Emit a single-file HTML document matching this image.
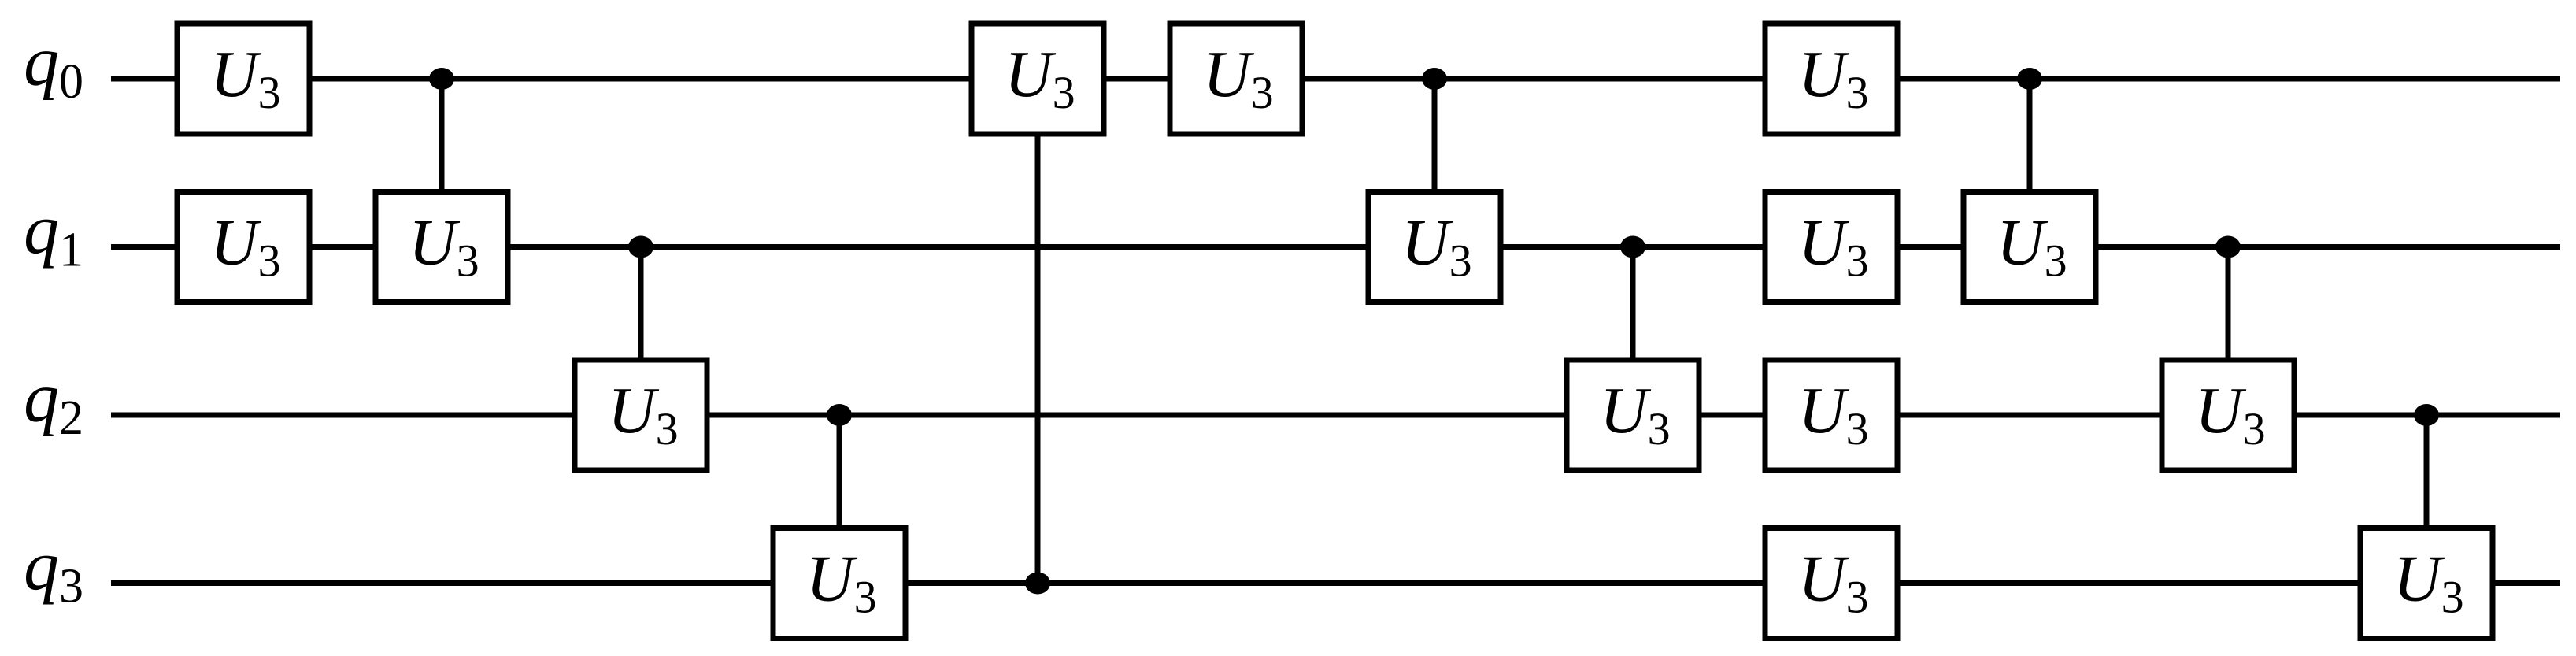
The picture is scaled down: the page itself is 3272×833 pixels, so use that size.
<!DOCTYPE html>
<html><head><meta charset="utf-8"><style>html,body{margin:0;padding:0;background:#fff}svg{display:block}</style></head>
<body>
<svg width="3272" height="833" viewBox="0 0 3272 833" xmlns="http://www.w3.org/2000/svg" font-family="Liberation Serif, serif">
<g stroke="#000" stroke-width="7">
<line x1="141" y1="100" x2="3252" y2="100"/>
<line x1="141" y1="313.5" x2="3252" y2="313.5"/>
<line x1="141" y1="527" x2="3252" y2="527"/>
<line x1="141" y1="740.5" x2="3252" y2="740.5"/>
<line x1="561" y1="100" x2="561" y2="313.5"/>
<line x1="814" y1="313.5" x2="814" y2="527"/>
<line x1="1066" y1="527" x2="1066" y2="740.5"/>
<line x1="1318" y1="100" x2="1318" y2="740.5"/>
<line x1="1822" y1="100" x2="1822" y2="313.5"/>
<line x1="2074" y1="313.5" x2="2074" y2="527"/>
<line x1="2578" y1="100" x2="2578" y2="313.5"/>
<line x1="2830" y1="313.5" x2="2830" y2="527"/>
<line x1="3082" y1="527" x2="3082" y2="740.5"/>
</g>
<g fill="#000">
<ellipse cx="561" cy="100" rx="16" ry="14"/>
<ellipse cx="814" cy="313.5" rx="16" ry="14"/>
<ellipse cx="1066" cy="527" rx="16" ry="14"/>
<ellipse cx="1318" cy="740.5" rx="16" ry="14"/>
<ellipse cx="1822" cy="100" rx="16" ry="14"/>
<ellipse cx="2074" cy="313.5" rx="16" ry="14"/>
<ellipse cx="2578" cy="100" rx="16" ry="14"/>
<ellipse cx="2830" cy="313.5" rx="16" ry="14"/>
<ellipse cx="3082" cy="527" rx="16" ry="14"/>
</g>
<g font-style="italic" font-size="90">
<text x="30" y="108">q<tspan font-style="normal" font-size="62" dy="16">0</tspan></text>
<text x="30" y="321.5">q<tspan font-style="normal" font-size="62" dy="16">1</tspan></text>
<text x="30" y="535">q<tspan font-style="normal" font-size="62" dy="16">2</tspan></text>
<text x="30" y="748.5">q<tspan font-style="normal" font-size="62" dy="16">3</tspan></text>
</g>
<defs>
<g id="g">
<rect x="-84" y="-70" width="168" height="140" fill="#fff" stroke="#000" stroke-width="7"/>
<text x="-42" y="22" font-size="84" font-style="italic">U<tspan font-style="normal" font-size="58" dy="15">3</tspan></text>
</g>
</defs>
<use href="#g" x="309" y="100"/>
<use href="#g" x="309" y="313.5"/>
<use href="#g" x="561" y="313.5"/>
<use href="#g" x="814" y="527"/>
<use href="#g" x="1066" y="740.5"/>
<use href="#g" x="1318" y="100"/>
<use href="#g" x="1570" y="100"/>
<use href="#g" x="1822" y="313.5"/>
<use href="#g" x="2074" y="527"/>
<use href="#g" x="2326" y="100"/>
<use href="#g" x="2326" y="313.5"/>
<use href="#g" x="2326" y="527"/>
<use href="#g" x="2326" y="740.5"/>
<use href="#g" x="2578" y="313.5"/>
<use href="#g" x="2830" y="527"/>
<use href="#g" x="3082" y="740.5"/>
</svg>
</body></html>
